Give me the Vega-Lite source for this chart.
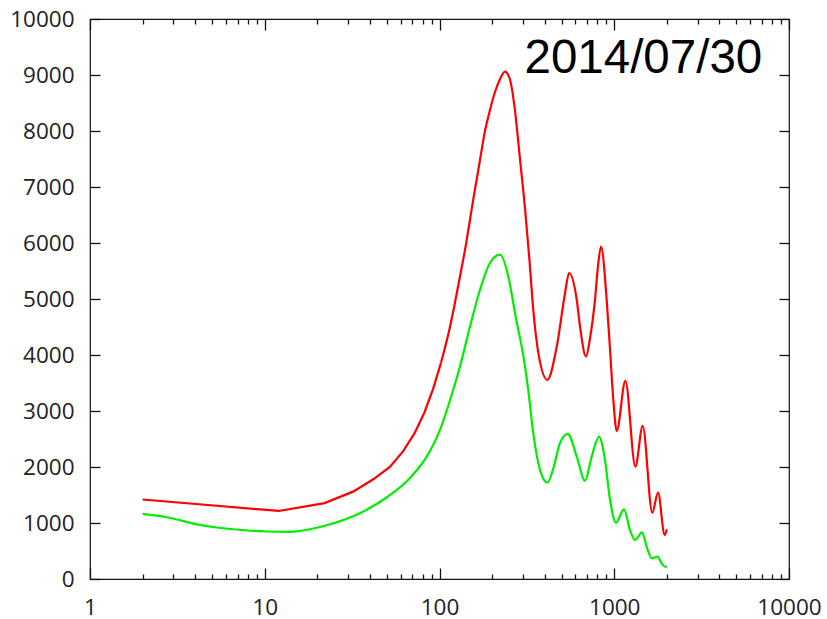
{
  "$schema": "https://vega.github.io/schema/vega-lite/v6.json",
  "width": 699,
  "height": 560,
  "autosize": {"type": "none"},
  "padding": {"left": 90, "top": 19, "right": 38, "bottom": 40},
  "background": "white",
  "config": {
    "view": {"stroke": "#111", "strokeWidth": 1.2},
    "axis": {"grid": false, "domain": false, "ticks": true, "tickColor": "#111", "tickOpacity": 1, "tickWidth": 1.3, "labelFont": "Open Sans", "labelFontSize": 22.5, "labelColor": "#222", "labelFlush": false, "labelOverlap": false, "title": null}
  },
  "datasets": {
    "redLow": [
      {"l": 2, "v": 1420}, {"l": 12, "v": 1215}, {"l": 22, "v": 1355}, {"l": 32, "v": 1560},
      {"l": 42, "v": 1785}, {"l": 52, "v": 2000}, {"l": 62, "v": 2283}, {"l": 72, "v": 2604},
      {"l": 82, "v": 2974}, {"l": 92, "v": 3399}, {"l": 102, "v": 3860}
    ],
    "redHigh": [
      {"l": 102, "v": 3860}, {"l": 115, "v": 4509}, {"l": 131, "v": 5403}, {"l": 140, "v": 5880},
      {"l": 156, "v": 6774}, {"l": 170, "v": 7460}, {"l": 182.1, "v": 8000}, {"l": 194.5, "v": 8375},
      {"l": 207.8, "v": 8696}, {"l": 222, "v": 8929}, {"l": 237, "v": 9060}, {"l": 253, "v": 8919},
      {"l": 270, "v": 8383}, {"l": 289, "v": 7489}, {"l": 309, "v": 6595}, {"l": 327, "v": 5702},
      {"l": 344, "v": 4808}, {"l": 368, "v": 4034}, {"l": 414, "v": 3557}, {"l": 469, "v": 4152},
      {"l": 523, "v": 5106}, {"l": 551, "v": 5464}, {"l": 610, "v": 4987}, {"l": 637, "v": 4509},
      {"l": 689, "v": 3973}, {"l": 727, "v": 4300}, {"l": 776, "v": 4987}, {"l": 808, "v": 5600},
      {"l": 840, "v": 5934}, {"l": 905, "v": 4987}, {"l": 946, "v": 4093}, {"l": 988, "v": 3199},
      {"l": 1033, "v": 2645}, {"l": 1158, "v": 3539}, {"l": 1321, "v": 2007}, {"l": 1455, "v": 2735},
      {"l": 1651, "v": 1185}, {"l": 1780, "v": 1543}, {"l": 1944, "v": 786}, {"l": 2000, "v": 888}
    ],
    "green": [
      {"l": 2, "v": 1162}, {"l": 2.75, "v": 1103}, {"l": 4.26, "v": 965}, {"l": 6.6, "v": 888},
      {"l": 10.3, "v": 848}, {"l": 13.9, "v": 843}, {"l": 22.6, "v": 960}, {"l": 35, "v": 1174},
      {"l": 50, "v": 1460}, {"l": 68, "v": 1810}, {"l": 84.5, "v": 2186}, {"l": 100.7, "v": 2663},
      {"l": 115, "v": 3199}, {"l": 131, "v": 3795}, {"l": 149.5, "v": 4509}, {"l": 170.5, "v": 5165},
      {"l": 194.5, "v": 5643}, {"l": 222, "v": 5791}, {"l": 247.6, "v": 5403}, {"l": 270.4, "v": 4749},
      {"l": 308.6, "v": 3795}, {"l": 322, "v": 3378}, {"l": 344, "v": 2604}, {"l": 376, "v": 1948},
      {"l": 414, "v": 1721}, {"l": 451, "v": 2007}, {"l": 489, "v": 2425}, {"l": 542, "v": 2592},
      {"l": 610, "v": 2186}, {"l": 680, "v": 1757}, {"l": 743, "v": 2186}, {"l": 818, "v": 2544},
      {"l": 885, "v": 2127}, {"l": 946, "v": 1412}, {"l": 1023, "v": 1006}, {"l": 1137, "v": 1245},
      {"l": 1230, "v": 876}, {"l": 1314, "v": 697}, {"l": 1442, "v": 834}, {"l": 1534, "v": 577},
      {"l": 1637, "v": 370}, {"l": 1763, "v": 399}, {"l": 1868, "v": 280}, {"l": 1950, "v": 220},
      {"l": 2000, "v": 220}
    ]
  },
  "layer": [
    {
      "data": {"name": "redLow"},
      "mark": {"type": "line", "color": "#ff0000", "strokeWidth": 2.2, "interpolate": "linear"},
      "encoding": {
        "x": {"field": "l", "type": "quantitative",
          "scale": {"type": "log", "domain": [1, 10000], "nice": false},
          "axis": {"orient": "bottom", "values": [1, 10, 100, 1000, 10000],
            "tickSize": 11, "offset": -11, "format": "d", "labelPadding": 17}},
        "y": {"field": "v", "type": "quantitative",
          "scale": {"domain": [0, 10000], "nice": false, "zero": false},
          "axis": {"orient": "left", "values": [0,1000,2000,3000,4000,5000,6000,7000,8000,9000,10000],
            "tickSize": 10, "offset": -10, "labelPadding": 16, "format": "d"}}
      }
    },
    {
      "data": {"name": "green"},
      "mark": {"type": "line", "color": "#00ee00", "strokeWidth": 2.2, "interpolate": "monotone"},
      "encoding": {
        "x": {"field": "l", "type": "quantitative",
          "scale": {"type": "log", "domain": [1, 10000], "nice": false},
          "axis": {"orient": "top", "labels": false, "values": [1, 10, 100, 1000, 10000], "tickSize": 11, "offset": -11}},
        "y": {"field": "v", "type": "quantitative",
          "scale": {"domain": [0, 10000], "nice": false, "zero": false},
          "axis": {"orient": "right", "labels": false, "values": [0,1000,2000,3000,4000,5000,6000,7000,8000,9000,10000], "tickSize": 10, "offset": -10}}
      }
    },
    {
      "data": {"name": "redHigh"},
      "mark": {"type": "line", "color": "#ff0000", "strokeWidth": 2.2, "interpolate": "monotone"},
      "encoding": {
        "x": {"field": "l", "type": "quantitative", "scale": {"type": "log", "domain": [1, 10000], "nice": false},
          "axis": {"orient": "bottom", "labels": false,
            "values": [2,3,4,5,6,7,8,9,20,30,40,50,60,70,80,90,200,300,400,500,600,700,800,900,2000,3000,4000,5000,6000,7000,8000,9000],
            "tickSize": 5, "offset": -5}},
        "y": {"field": "v", "type": "quantitative", "scale": {"domain": [0, 10000], "nice": false, "zero": false}, "axis": null}
      }
    },
    {
      "data": {"values": [{}]},
      "mark": {"type": "text", "font": "Liberation Sans", "fontSize": 47.5, "color": "#000", "align": "left", "baseline": "alphabetic"},
      "encoding": {
        "x": {"datum": 306.5, "type": "quantitative", "scale": {"type": "log", "domain": [1, 10000], "nice": false},
          "axis": {"orient": "top", "labels": false,
            "values": [2,3,4,5,6,7,8,9,20,30,40,50,60,70,80,90,200,300,400,500,600,700,800,900,2000,3000,4000,5000,6000,7000,8000,9000],
            "tickSize": 5, "offset": -5}},
        "y": {"datum": 9030, "type": "quantitative", "scale": {"domain": [0, 10000], "nice": false, "zero": false}, "axis": null},
        "text": {"value": "2014/07/30"}
      }
    }
  ],
  "resolve": {"axis": {"x": "independent", "y": "independent"}}
}
